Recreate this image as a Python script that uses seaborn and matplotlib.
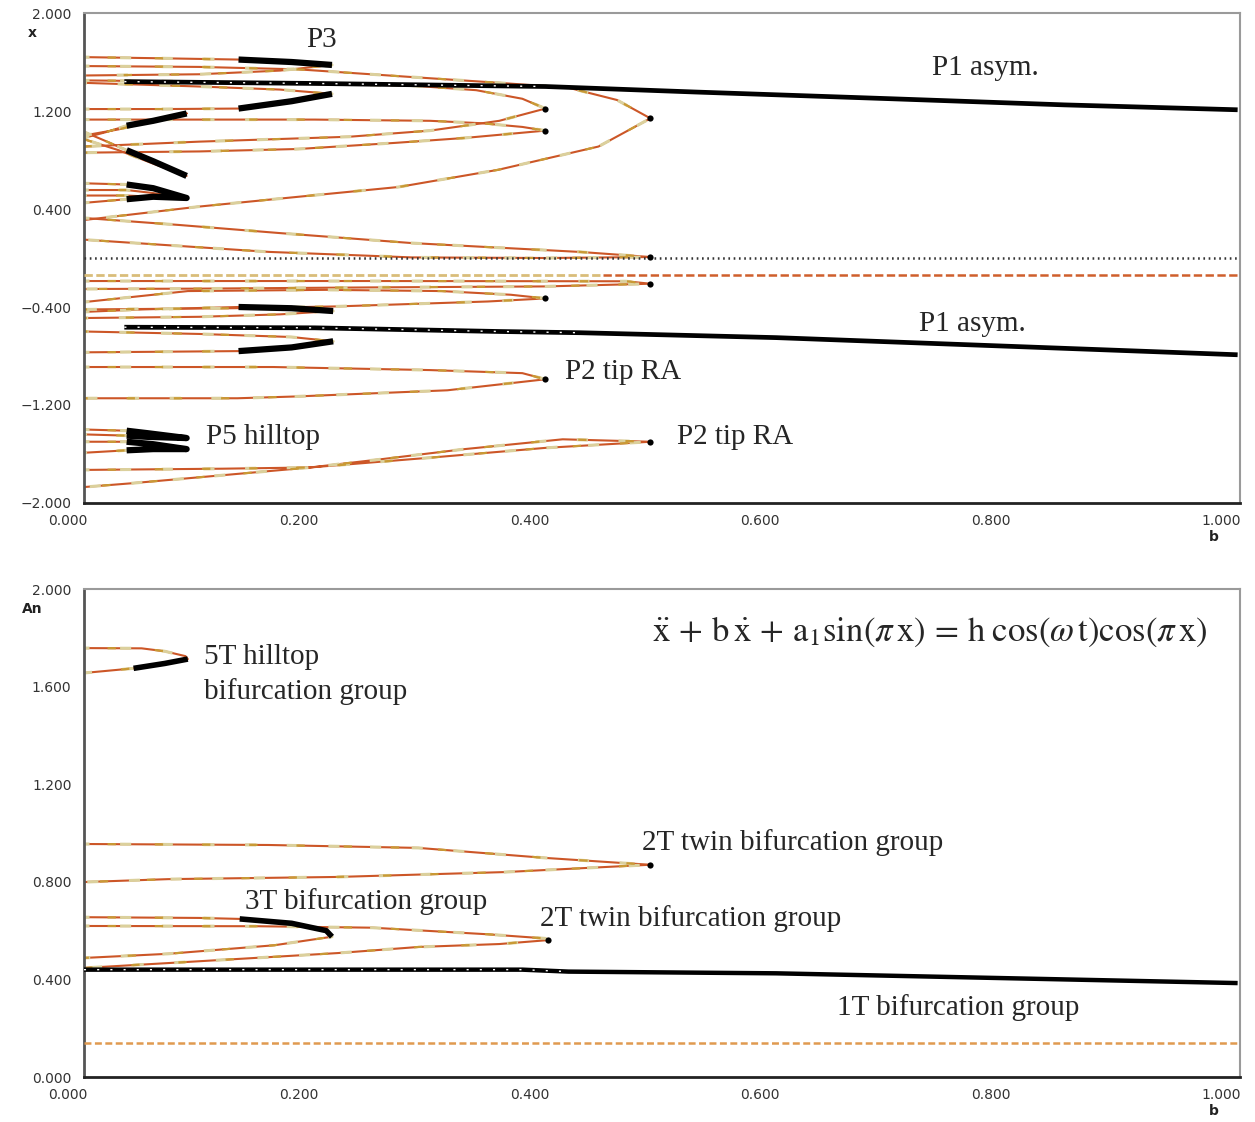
import numpy as np
import pandas as pd
import seaborn as sns
import matplotlib.pyplot as plt
from matplotlib.transforms import ScaledTranslation

# ---------- top panel: x versus b ----------
p1_up_b = [0.035, 0.2, 0.4, 0.53, 0.7, 0.85, 1.0]
p1_up_x = [1.44, 1.425, 1.40, 1.355, 1.30, 1.25, 1.21]
p1_lo_b = [0.035, 0.2, 0.36, 0.43, 0.6, 0.8, 1.0]
p1_lo_x = [-0.565, -0.57, -0.60, -0.61, -0.65, -0.72, -0.79]

a_b = [0, 0.1, 0.186, 0.283, 0.36, 0.42, 0.462, 0.491, 0.446, 0.359, 0.273, 0.186, 0.1, 0]
a_x = [1.567, 1.56, 1.54, 1.478, 1.43, 1.39, 1.29, 1.14, 0.91, 0.72, 0.58, 0.50, 0.42, 0.31]
b_b = [0, 0.082, 0.169, 0.284, 0.431, 0.491, 0.40, 0.284, 0.16, 0.08, 0]
b_x = [0.327, 0.27, 0.204, 0.122, 0.049, 0.008, 0.0, 0.005, 0.05, 0.10, 0.15]
c_b = [0, 0.25, 0.47, 0.491, 0.40, 0.25, 0.10, 0]
c_x = [-0.188, -0.188, -0.19, -0.21, -0.232, -0.24, -0.25, -0.253]
d_b = [0, 0.1, 0.2, 0.28, 0.34, 0.38, 0.40, 0.36, 0.30, 0.23, 0.1, 0]
d_x = [1.45, 1.44, 1.42, 1.41, 1.37, 1.30, 1.22, 1.12, 1.04, 0.99, 0.95, 0.91]
e_b = [0, 0.2, 0.30, 0.345, 0.38, 0.40, 0.33, 0.27, 0.186, 0.1, 0]
e_x = [1.13, 1.13, 1.12, 1.10, 1.07, 1.04, 0.98, 0.94, 0.89, 0.87, 0.86]
dp_b = [0, 0.09, 0.21, 0.31, 0.37, 0.40, 0.35, 0.22, 0.13, 0]
dp_x = [-0.36, -0.27, -0.26, -0.27, -0.30, -0.33, -0.355, -0.395, -0.41, -0.42]

p3u_b = [0, 0.07, 0.134, 0.18, 0.215, 0.17, 0.1, 0]
p3u_x = [1.64, 1.63, 1.62, 1.60, 1.576, 1.53, 1.50, 1.49]
p3l_b = [0, 0.07, 0.134, 0.18, 0.215, 0.17, 0.1, 0]
p3l_x = [1.216, 1.216, 1.22, 1.28, 1.34, 1.375, 1.40, 1.43]
q3u_b = [0, 0.05, 0.134, 0.18, 0.216, 0.17, 0.1, 0]
q3u_x = [-0.44, -0.42, -0.40, -0.41, -0.433, -0.46, -0.48, -0.49]
q3l_b = [0, 0.07, 0.134, 0.18, 0.216, 0.18, 0.1, 0]
q3l_x = [-0.77, -0.765, -0.76, -0.73, -0.68, -0.645, -0.62, -0.60]

p2ra_b = [0, 0.164, 0.30, 0.38, 0.40, 0.315, 0.185, 0.133, 0]
p2ra_x = [-0.89, -0.89, -0.915, -0.94, -0.99, -1.08, -1.13, -1.145, -1.145]
p2rb_b = [0, 0.12, 0.196, 0.26, 0.33, 0.415, 0.491, 0.40, 0.30, 0.196, 0.10, 0.04, 0]
p2rb_x = [-1.73, -1.72, -1.71, -1.64, -1.56, -1.48, -1.50, -1.55, -1.63, -1.71, -1.79, -1.84, -1.87]

p5a_b = [0, 0.037, 0.055, 0.089, 0.055, 0.037, 0]
p5a_x = [-1.40, -1.41, -1.43, -1.47, -1.46, -1.45, -1.44]
p5b_b = [0, 0.037, 0.06, 0.089, 0.06, 0.037, 0]
p5b_x = [-1.50, -1.50, -1.52, -1.56, -1.56, -1.57, -1.59]

v1_b = [0, 0.02, 0.037, 0.06, 0.089, 0.06, 0.03, 0]
v1_x = [0.98, 1.03, 1.08, 1.12, 1.18, 1.12, 1.05, 1.00]
v2_b = [0, 0.02, 0.037, 0.06, 0.089, 0.06, 0.03, 0]
v2_x = [1.03, 0.95, 0.88, 0.79, 0.67, 0.77, 0.88, 0.97]
l1_b = [0, 0.037, 0.06, 0.089, 0.06, 0.037, 0]
l1_x = [0.61, 0.60, 0.57, 0.49, 0.53, 0.555, 0.555]
l2_b = [0, 0.037, 0.06, 0.089, 0.06, 0.037, 0]
l2_x = [0.45, 0.48, 0.50, 0.49, 0.50, 0.51, 0.51]

# black (stable) pieces drawn over the folds
blk_top = [
    ([0.134, 0.18, 0.215], [1.62, 1.60, 1.576]),
    ([0.134, 0.18, 0.215], [1.22, 1.28, 1.34]),
    ([0.134, 0.18, 0.216], [-0.40, -0.41, -0.433]),
    ([0.134, 0.18, 0.216], [-0.76, -0.73, -0.68]),
    ([0.037, 0.06, 0.089], [1.08, 1.12, 1.18]),
    ([0.037, 0.06, 0.089], [0.88, 0.79, 0.67]),
    ([0.037, 0.06, 0.089, 0.06, 0.037], [0.60, 0.57, 0.49, 0.50, 0.48]),
    ([0.037, 0.055, 0.089, 0.055, 0.037], [-1.41, -1.43, -1.47, -1.46, -1.45]),
    ([0.037, 0.06, 0.089, 0.06, 0.037], [-1.50, -1.52, -1.56, -1.56, -1.57]),
]
tip_top_b = [0.491, 0.40, 0.40, 0.491, 0.491, 0.40, 0.40, 0.491]
tip_top_x = [1.14, 1.22, 1.04, 0.008, -0.21, -0.33, -0.99, -1.50]

# ---------- bottom panel: An versus b ----------
t1_b = [0, 0.2, 0.38, 0.42, 0.6, 0.8, 1.0]
t1_a = [0.44, 0.44, 0.44, 0.432, 0.425, 0.405, 0.385]
t5_b = [0, 0.05, 0.07, 0.088, 0.09, 0.07, 0.043, 0]
t5_a = [1.758, 1.757, 1.745, 1.725, 1.713, 1.695, 1.675, 1.656]
t2u_b = [0, 0.16, 0.29, 0.40, 0.467, 0.491, 0.365, 0.22, 0.073, 0]
t2u_a = [0.955, 0.951, 0.939, 0.898, 0.877, 0.87, 0.840, 0.820, 0.811, 0.799]
t2l_b = [0, 0.15, 0.25, 0.35, 0.40, 0.402, 0.36, 0.29, 0.22, 0.073, 0]
t2l_a = [0.619, 0.618, 0.612, 0.585, 0.568, 0.561, 0.545, 0.533, 0.508, 0.467, 0.447]
t3_b = [0, 0.10, 0.135, 0.18, 0.21, 0.215, 0.165, 0.073, 0]
t3_a = [0.655, 0.652, 0.648, 0.63, 0.60, 0.575, 0.54, 0.505, 0.488]
blk_bot = [
    ([0.043, 0.07, 0.09], [1.675, 1.695, 1.713]),
    ([0.135, 0.18, 0.21, 0.215], [0.648, 0.63, 0.60, 0.575]),
]
tip_bot_b = [0.491, 0.402]
tip_bot_a = [0.87, 0.561]

b_ticks = [0, 0.2, 0.4, 0.6, 0.8, 1.0]
b_labels = ["0.000", "0.200", "0.400", "0.600", "0.800", "1.000"]
x_ticks = [2.0, 1.2, 0.4, -0.4, -1.2, -2.0]
x_labels = ["2.000", "1.200", "0.400", "\u22120.400", "\u22121.200", "\u22122.000"]
an_ticks = [2.0, 1.6, 1.2, 0.8, 0.4, 0.0]
an_labels = ["2.000", "1.600", "1.200", "0.800", "0.400", "0.000"]

sns.set_style("white")
plt.rcParams["font.family"] = ["DejaVu Sans"]
plt.rcParams["mathtext.fontset"] = "stix"
plt.rcParams["lines.scale_dashes"] = False
plt.rcParams["lines.solid_capstyle"] = "butt"

fig = plt.figure(figsize=(12.55, 11.22), dpi=100)
ax1 = fig.add_axes([0.0669, 0.5517, 0.9211, 0.4367])
ax2 = fig.add_axes([0.0669, 0.0401, 0.9211, 0.4349])


def line(ax, bb, yy, color, lw, ls="-", z=2):
    sns.lineplot(x=bb, y=yy, sort=False, estimator=None, ax=ax,
                 color=color, linewidth=lw, linestyle=ls, zorder=z)


def fold(ax, bb, yy):
    line(ax, bb, yy, "#cc5627", 1.5)
    line(ax, bb, yy, "#dbd09c", 2.2, (4, (8, 22)), 2.1)
    line(ax, bb, yy, "#c99a35", 1.6, (17, (6, 28)), 2.2)


# top
line(ax1, [0, 1], [0, 0], "#333333", 1.8, (0, (1.2, 2.6)), 3)
line(ax1, [0, 0.45], [-0.139, -0.139], "#d9bd7a", 2.0, (0, (6, 2.5)), 3)
line(ax1, [0.45, 1.0], [-0.139, -0.139], "#cf5f2c", 1.8, (0, (6, 2.5)), 3)
for bb, xx in [(a_b, a_x), (b_b, b_x), (c_b, c_x), (d_b, d_x), (e_b, e_x),
               (dp_b, dp_x), (p3u_b, p3u_x), (p3l_b, p3l_x), (q3u_b, q3u_x),
               (q3l_b, q3l_x), (p2ra_b, p2ra_x), (p2rb_b, p2rb_x),
               (p5a_b, p5a_x), (p5b_b, p5b_x), (v1_b, v1_x), (v2_b, v2_x),
               (l1_b, l1_x), (l2_b, l2_x)]:
    fold(ax1, bb, xx)
for bb, xx in blk_top:
    line(ax1, bb, xx, "black", 4.5, "-", 4)
line(ax1, p1_up_b, p1_up_x, "black", 3.4, "-", 5)
line(ax1, p1_up_b[:3], p1_up_x[:3], "white", 1.0, (0, (1.5, 8)), 6)
line(ax1, p1_lo_b, p1_lo_x, "black", 3.4, "-", 5)
line(ax1, p1_lo_b[:4], p1_lo_x[:4], "white", 1.0, (0, (1.5, 8)), 6)
sns.scatterplot(x=tip_top_b, y=tip_top_x, ax=ax1, color="black", s=20,
                linewidth=0, zorder=6)

# bottom
line(ax2, [0, 1], [0.139, 0.139], "#e09a50", 1.8, (0, (5, 2.5)), 3)
for bb, yy in [(t5_b, t5_a), (t2u_b, t2u_a), (t2l_b, t2l_a), (t3_b, t3_a)]:
    fold(ax2, bb, yy)
for bb, yy in blk_bot:
    line(ax2, bb, yy, "black", 4.0, "-", 4)
line(ax2, t1_b, t1_a, "black", 3.2, "-", 5)
line(ax2, t1_b[:4], t1_a[:4], "white", 1.0, (0, (1.5, 8)), 6)
sns.scatterplot(x=tip_bot_b, y=tip_bot_a, ax=ax2, color="black", s=20,
                linewidth=0, zorder=6)

serif = dict(fontfamily="Liberation Serif", fontsize=21, va="center", zorder=8)
ax1.text(0.206, 1.78, "P3", ha="center", **serif)
ax1.text(0.781, 1.551, "P1 asym.", ha="center", **serif)
ax1.text(0.770, -0.539, "P1 asym.", ha="center", **serif)
ax1.text(0.467, -0.93, "P2 tip RA", ha="center", **serif)
ax1.text(0.155, -1.461, "P5 hilltop", ha="center", **serif)
ax1.text(0.564, -1.461, "P2 tip RA", ha="center", **serif)

ax2.text(0.104, 1.721, "5T hilltop", ha="left", **serif)
ax2.text(0.104, 1.582, "bifurcation group", ha="left", **serif)
ax2.text(0.614, 0.963, "2T twin bifurcation group", ha="center", **serif)
ax2.text(0.245, 0.721, "3T bifurcation group", ha="center", **serif)
ax2.text(0.526, 0.648, "2T twin bifurcation group", ha="center", **serif)
ax2.text(0.758, 0.283, "1T bifurcation group", ha="center", **serif)
ax2.text(0.733, 1.824,
         r"$\ddot{\mathrm{x}}\,+\,\mathrm{b}\,\dot{\mathrm{x}}\,+\,\mathrm{a}_1\mathrm{sin}(\pi\,\mathrm{x})"
         r"\,=\,\mathrm{h}\;\mathrm{cos}(\omega\,\mathrm{t})\mathrm{cos}(\pi\,\mathrm{x})$",
         ha="center", va="center", fontsize=25, zorder=8)

shift = ScaledTranslation(-0.16, 0, fig.dpi_scale_trans)
for ax, yt, yl, lims, name in [(ax1, x_ticks, x_labels, (-2, 2), "x"),
                               (ax2, an_ticks, an_labels, (0, 2), "An")]:
    ax.set_xlim(0, 1.002)
    ax.set_ylim(*lims)
    ax.set_xticks(b_ticks)
    ax.set_xticklabels(b_labels)
    ax.set_yticks(yt)
    ax.set_yticklabels(yl)
    ax.set_xlabel("")
    ax.set_ylabel("")
    ax.tick_params(axis="y", direction="out", length=7, width=1.3,
                   color="#444444", labelsize=10, labelcolor="#333333", pad=2)
    ax.tick_params(axis="x", direction="out", length=5, width=1.3,
                   color="#444444", labelsize=10, labelcolor="#333333", pad=3)
    for lab in ax.get_xticklabels():
        lab.set_transform(lab.get_transform() + shift)
    ax.spines["left"].set(color="#555555", linewidth=2)
    ax.spines["bottom"].set(color="#222222", linewidth=2)
    ax.spines["top"].set(color="#9a9a9a", linewidth=1.5)
    ax.spines["right"].set(color="#9a9a9a", linewidth=1.5)
    ax.text(-0.045, 0.959, name, transform=ax.transAxes, fontsize=10,
            fontweight="bold", color="#222222", ha="center", va="center")
    ax.text(0.977, -0.07, "b", transform=ax.transAxes, fontsize=10,
            fontweight="bold", color="#222222", ha="center", va="center")

fig.savefig("out.png", dpi=100)
